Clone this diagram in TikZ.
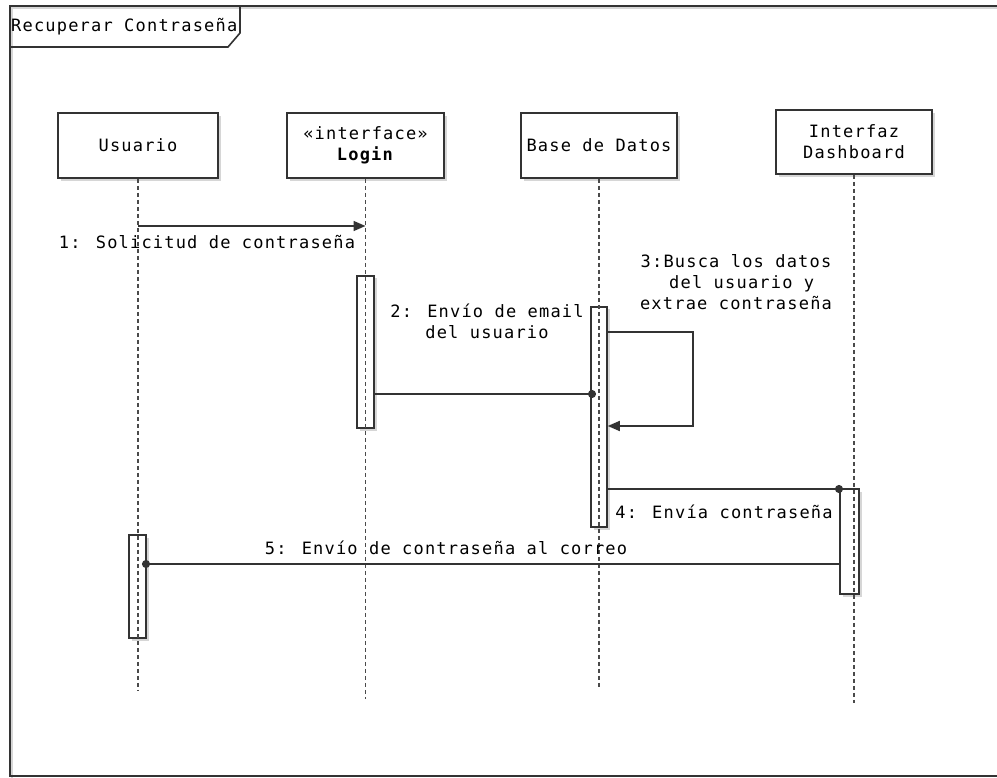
\documentclass[tikz,border=0pt]{standalone}
\usepackage{fontspec}
\setmainfont{DejaVu Sans Mono}[LetterSpace=7]
\usetikzlibrary{arrows.meta,shadows}
\definecolor{ln}{HTML}{333333}
\definecolor{sh}{HTML}{D6D6D6}
\definecolor{lf}{HTML}{4A4A4A}
\begin{document}
\begin{tikzpicture}[x=1pt,y=-1pt,
  font=\fontsize{17}{20}\selectfont,
  frame/.style={draw=ln, line width=1.6pt},
  head/.style={draw=ln, line width=1.8pt, fill=white, inner sep=2pt, align=center,
    minimum width=157pt, minimum height=65pt,
    drop shadow={shadow xshift=3pt, shadow yshift=-3pt, fill=sh, opacity=1}},
  actbox/.style={draw=ln, line width=1.5pt, fill=white, inner sep=0pt, minimum width=17pt,
    drop shadow={shadow xshift=2.5pt, shadow yshift=-2.5pt, fill=sh, opacity=1}},
  life/.style={draw=lf, line width=1.6pt, dash pattern=on 4pt off 3pt},
  msg/.style={draw=ln, line width=1.6pt},
  sync/.style={msg, -{Triangle[length=12pt,width=10pt]}},
  dotend/.style={msg, -{Circle[length=8pt]}},
  lbl/.style={inner sep=0pt, align=center, text=black}
]
\useasboundingbox (0,0) rectangle (997,778);
\fill[white] (0,0) rectangle (997,778);

% frame
\draw[sh, line width=1.5pt] (1000,8) -- (12,8) -- (12,778);
\draw[frame] (1000,6) -- (10,6) -- (10,776) -- (1000,776);
\draw[frame] (240,6) -- (240,33) -- (228,47) -- (10,47);
\node[lbl, anchor=west] (title) at (11,27) {Recuperar Contraseña};

% lifeline heads
\node[head, minimum width=160pt] (usr) at (138,145.5) {Usuario};
\node[head] (login) at (365.5,145.5) {«interface»\\[1pt]\textbf{Login}};
\node[head, minimum width=156pt] (bd) at (599,145.5) {Base de Datos};
\node[head, minimum width=156pt, minimum height=64pt] (dash) at (854,142) {Interfaz\\[1pt]Dashboard};

% activations
\node[actbox, minimum height=152pt] (aLogin) at (365.5,352) {};
\node[actbox, minimum height=220pt, minimum width=16pt] (aBd) at (599,417) {};
\node[actbox, minimum height=105pt, minimum width=19pt] (aDash) at (849.5,541.5) {};
\node[actbox, minimum height=103pt] (aUsr) at (137.5,586.5) {};

% lifelines
\coordinate (usrEnd) at (138,690);
\coordinate (loginEnd) at (365.5,699);
\coordinate (bdEnd) at (599,688);
\coordinate (dashEnd) at (854,703);
\draw[life] (usr.south) -- (usrEnd);
\draw[life] (login.south) -- (loginEnd);
\draw[life] (bd.south) -- (bdEnd);
\draw[life] (dash.south) -- (dashEnd);

% message 1
\coordinate (m1s) at (138,226);
\coordinate (m1e) at (365.5,226);
\draw[sync] (m1s) -- (m1e);
\node[lbl] (l1) at (207,242) {1: Solicitud de contraseña};

% message 2
\coordinate (m2s) at (aLogin.east |- 0,394);
\coordinate (m2e) at (596,394);
\draw[dotend] (m2s) -- (m2e);
\node[lbl] (l2) at (487,321) {2: Envío de email\\[1pt]del usuario};

% message 3 (self)
\coordinate (m3s) at (aBd.east |- 0,332);
\coordinate (m3a) at (693,332);
\coordinate (m3b) at (693,426);
\coordinate (m3e) at (aBd.east |- 0,426);
\draw[sync] (m3s) -- (m3a) -- (m3b) -- (m3e);
\node[lbl] (l3) at (736,282) {3:Busca los datos\\[1pt]\ del usuario y\\[1pt]extrae contraseña};

% message 4
\coordinate (m4s) at (aBd.east |- 0,489);
\coordinate (m4e) at (843,489);
\draw[dotend] (m4s) -- (m4e);
\node[lbl] (l4) at (724,512) {4: Envía contraseña};

% message 5
\coordinate (m5s) at (aDash.west |- 0,564);
\coordinate (m5e) at (142,564);
\draw[dotend] (m5s) -- (m5e);
\node[lbl] (l5) at (446,548) {5: Envío de contraseña al correo};
\end{tikzpicture}
\end{document}
